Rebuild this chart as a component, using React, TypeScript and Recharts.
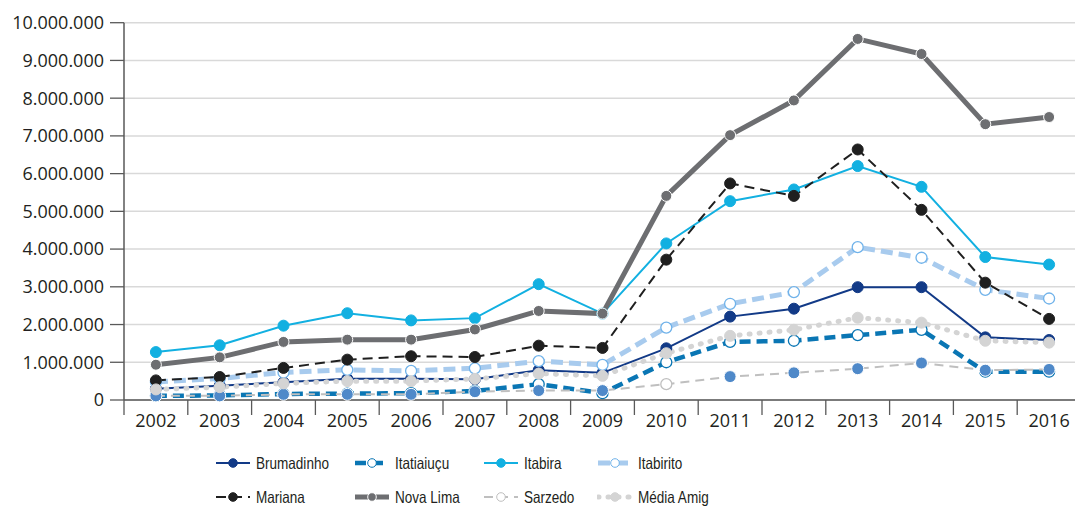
import { LineChart, Line, XAxis, YAxis, CartesianGrid } from 'recharts'

// valores anuais por município
const years = ['2002', '2003', '2004', '2005', '2006', '2007', '2008', '2009', '2010', '2011', '2012', '2013', '2014', '2015', '2016']
const brumadinho = [300000, 380000, 470000, 560000, 560000, 550000, 790000, 720000, 1370000, 2210000, 2420000, 2990000, 2990000, 1660000, 1590000]
const itatiaiucu = [110000, 120000, 160000, 170000, 180000, 240000, 420000, 180000, 1000000, 1540000, 1570000, 1720000, 1860000, 750000, 750000]
const itabira = [1270000, 1450000, 1970000, 2300000, 2110000, 2170000, 3070000, 2290000, 4150000, 5270000, 5580000, 6200000, 5650000, 3790000, 3590000]
const itabirito = [480000, 570000, 730000, 800000, 770000, 840000, 1030000, 930000, 1920000, 2550000, 2860000, 4050000, 3770000, 2920000, 2690000]
const mariana = [520000, 610000, 850000, 1070000, 1160000, 1140000, 1440000, 1380000, 3720000, 5740000, 5410000, 6640000, 5040000, 3110000, 2150000]
const novaLima = [935000, 1130000, 1540000, 1600000, 1600000, 1870000, 2360000, 2290000, 5410000, 7020000, 7940000, 9570000, 9170000, 7310000, 7500000]
const sarzedo = [110000, 110000, 150000, 150000, 150000, 220000, 250000, 250000, 420000, 620000, 720000, 830000, 980000, 790000, 810000]
const mediaAmig = [280000, 340000, 440000, 500000, 500000, 560000, 700000, 640000, 1240000, 1700000, 1860000, 2180000, 2050000, 1570000, 1520000]
const yTicks = [0, 1000000, 2000000, 3000000, 4000000, 5000000, 6000000, 7000000, 8000000, 9000000, 10000000]

// anos em que o marcador de Sarzedo aparece vazado
const sarzedoHollowYears = ['2010']

const data = years.map((year, i) => ({
  year,
  Brumadinho: brumadinho[i],
  'Itatiaiuçu': itatiaiucu[i],
  Itabira: itabira[i],
  Itabirito: itabirito[i],
  Mariana: mariana[i],
  'Nova Lima': novaLima[i],
  Sarzedo: sarzedo[i],
  'Média Amig': mediaAmig[i],
}))

type Serie = {
  name: string
  color: string
  width: number
  dash?: string
  cap?: 'round' | 'butt'
  marker: 'filled' | 'hollow' | 'sarzedo'
  markerColor?: string
  markerStroke?: string
}

const series: Serie[] = [
  { name: 'Brumadinho', color: '#123a87', width: 2, marker: 'filled' },
  { name: 'Itatiaiuçu', color: '#0a76b4', width: 4.5, dash: '11 6', marker: 'hollow' },
  { name: 'Itabira', color: '#12b0e1', width: 2, marker: 'filled' },
  { name: 'Itabirito', color: '#a8cbee', width: 5, dash: '12 6', marker: 'hollow', markerStroke: '#6fb2ea' },
  { name: 'Mariana', color: '#1f1f1f', width: 2, dash: '10 6', marker: 'filled' },
  { name: 'Nova Lima', color: '#6d6e71', width: 5, marker: 'filled', markerStroke: '#ffffff' },
  { name: 'Sarzedo', color: '#bfbfbf', width: 2, dash: '9 6', marker: 'sarzedo', markerColor: '#4f89c9' },
  { name: 'Média Amig', color: '#d4d4d4', width: 5, dash: '1 9', cap: 'round', marker: 'filled' },
]

const CHART_W = 1087
const PLOT_LEFT = 124
const PLOT_RIGHT = 6
const BAND = (CHART_W - PLOT_LEFT - PLOT_RIGHT) / years.length
const AXIS = '#595959'
const TEXT = '#231f20'
const FONT = '"Open Sans", "Noto Sans", sans-serif'
const LEGEND_FONT = '"Liberation Sans", Arial, sans-serif'

const fmt = (v: number) => String(v).replace(/\B(?=(\d{3})+(?!\d))/g, '.')

function makeDot(s: Serie) {
  return (props: any) => {
    const { cx, cy, index } = props
    const key = `${s.name}-${index}`
    if (cx == null || cy == null) return <g key={key} />
    if (s.marker === 'hollow') {
      return <circle key={key} cx={cx} cy={cy} r={5.5} fill="#fff" stroke={s.markerStroke || s.color} strokeWidth={1.3} />
    }
    if (s.marker === 'sarzedo') {
      if (sarzedoHollowYears.includes(years[index])) {
        return <circle key={key} cx={cx} cy={cy} r={5.5} fill="#fff" stroke={s.color} strokeWidth={1.3} />
      }
      return <circle key={key} cx={cx} cy={cy} r={6} fill={s.markerColor} stroke="#fff" strokeWidth={1} />
    }
    return <circle key={key} cx={cx} cy={cy} r={5.5} fill={s.color} stroke={s.markerStroke || s.color} strokeWidth={1} />
  }
}

const XTick = (props: any) => {
  const { x, y, payload } = props
  const bx = x - BAND / 2
  return (
    <g>
      <line x1={bx} y1={y} x2={bx} y2={y + 15} stroke={AXIS} strokeWidth={1.3} />
      <text x={x} y={y + 27} textAnchor="middle" fill={TEXT} fontSize={18} fontFamily={FONT}>
        {payload.value}
      </text>
    </g>
  )
}

function LegendIcon({ s }: { s: Serie }) {
  const hollow = s.marker === 'hollow' || s.marker === 'sarzedo'
  const stroke = s.markerStroke || s.color
  return (
    <svg width={36} height={12} style={{ display: 'block', flex: 'none' }}>
      <line x1={1} y1={6} x2={35} y2={6} stroke={s.color} strokeWidth={s.width} strokeDasharray={s.dash} strokeLinecap={s.cap || 'butt'} />
      <circle cx={18} cy={6} r={4.3} fill={hollow ? '#fff' : s.color} stroke={stroke} strokeWidth={1} />
    </svg>
  )
}

const legendCols = [215, 354, 483, 597]
const legendRows = [463, 497]

function ChartLegend() {
  return (
    <>
      {series.map((s, i) => {
        const left = legendCols[i % 4]
        const top = legendRows[Math.floor(i / 4)]
        return (
          <div
            key={s.name}
            style={{ position: 'absolute', left, top: top - 10, height: 20, display: 'flex', alignItems: 'center', gap: 5 }}
          >
            <LegendIcon s={s} />
            <span
              style={{
                display: 'inline-block',
                fontFamily: LEGEND_FONT,
                fontSize: 16.5,
                lineHeight: '20px',
                color: TEXT,
                whiteSpace: 'nowrap',
                transform: 'scaleX(0.82)',
                transformOrigin: 'left center',
              }}
            >
              {s.name}
            </span>
          </div>
        )
      })}
    </>
  )
}

export default function App() {
  return (
    <div style={{ position: 'fixed', top: 0, left: 0, width: 1075, height: 507, overflow: 'hidden', background: '#fff' }}>
      <LineChart width={CHART_W} height={507} data={data} margin={{ top: 22.7, right: PLOT_RIGHT, bottom: 77, left: 0 }}>
        <CartesianGrid vertical={false} stroke="#d9d9d9" strokeWidth={1.5} />
        <XAxis
          dataKey="year"
          height={30}
          padding={{ left: BAND / 2, right: BAND / 2 }}
          axisLine={{ stroke: AXIS, strokeWidth: 1.5 }}
          tickLine={false}
          tickSize={0}
          tickMargin={0}
          interval={0}
          tick={<XTick />}
        />
        <YAxis
          width={PLOT_LEFT}
          domain={[0, 10000000]}
          ticks={yTicks}
          interval={0}
          axisLine={{ stroke: AXIS, strokeWidth: 1.5 }}
          tickLine={{ stroke: AXIS, strokeWidth: 1.3 }}
          tickSize={14}
          tickMargin={6}
          tickFormatter={fmt}
          tick={{ fill: TEXT, fontSize: 18, fontFamily: FONT }}
        />
        {series.map((s) => (
          <Line
            key={s.name}
            dataKey={s.name}
            type="linear"
            stroke={s.color}
            strokeWidth={s.width}
            strokeDasharray={s.dash}
            strokeLinecap={s.cap || 'butt'}
            dot={makeDot(s)}
            activeDot={false}
            isAnimationActive={false}
          />
        ))}
      </LineChart>
      <ChartLegend />
    </div>
  )
}
